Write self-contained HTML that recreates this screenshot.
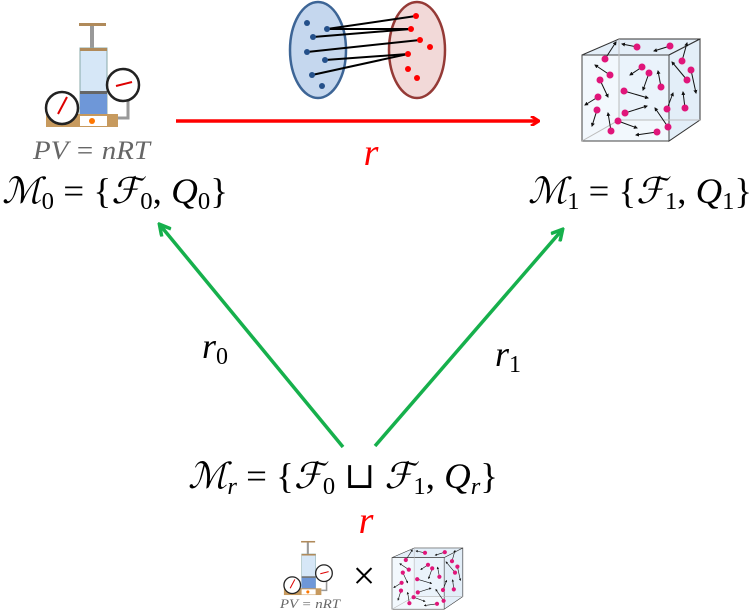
<!DOCTYPE html>
<html><head><meta charset="utf-8"><style>
html,body{margin:0;padding:0;background:#fff;width:754px;height:611px;overflow:hidden}
svg{display:block}
.m{font-family:"Liberation Serif","DejaVu Serif",serif;font-style:italic}
.r{font-family:"Liberation Serif",serif}
</style></head><body>
<svg width="754" height="611" viewBox="0 0 754 611" xmlns="http://www.w3.org/2000/svg">
<defs>
<marker id="ar" markerWidth="10" markerHeight="10" refX="8" refY="5" orient="auto" markerUnits="userSpaceOnUse">
<path d="M1,0 L9,5 L1,10" fill="none" stroke="#f00" stroke-width="3"/></marker>
<marker id="ag" markerWidth="14" markerHeight="14" refX="11" refY="7" orient="auto" markerUnits="userSpaceOnUse">
<path d="M1,1 L12,7 L1,13" fill="none" stroke="#16b04c" stroke-width="3.5"/></marker>
<marker id="sa" markerWidth="4" markerHeight="4" refX="3" refY="2" orient="auto" markerUnits="userSpaceOnUse">
<path d="M0,0 L4,2 L0,4z" fill="#111"/></marker>
<g id="pump">
 <rect x="79" y="23" width="27" height="3" fill="#b08a5a"/>
 <rect x="90" y="26" width="4" height="24" fill="#999"/>
 <rect x="80" y="48" width="27" height="67" fill="#d6e7f7" stroke="#8aa" stroke-width="1"/>
 <rect x="80" y="48" width="27" height="3" fill="#b08a5a"/>
 <rect x="80" y="91" width="27" height="3" fill="#666"/>
 <rect x="80" y="94" width="27" height="21" fill="#6e97d8"/>
 <rect x="46" y="114" width="72" height="13" fill="#c79a5e"/>
 <rect x="80" y="116" width="27" height="10" fill="#fff"/>
 <circle cx="92" cy="121" r="3" fill="#f70"/>
 <path d="M118,89 H128 V118 H118" fill="none" stroke="#999" stroke-width="3"/>
 <circle cx="62" cy="108" r="16" fill="#fff" stroke="#222" stroke-width="2.5"/>
 <line x1="58" y1="114" x2="67" y2="97" stroke="#d00" stroke-width="2"/>
 <circle cx="123" cy="85" r="16" fill="#fff" stroke="#222" stroke-width="2.5"/>
 <line x1="116" y1="86" x2="132" y2="82" stroke="#d00" stroke-width="2"/>
</g>
<g id="cube">
 <rect x="619" y="39" width="81" height="81" fill="#eaf3fb" stroke="#bbb"/>
 <path d="M582,55 L619,39 H700 L669,55 Z" fill="#e3eef8" stroke="#333"/>
 <path d="M669,55 L700,39 V120 L669,141 Z" fill="#e3eef8" stroke="#333"/>
 <rect x="582" y="55" width="87" height="86" fill="#eaf3fb" fill-opacity="0.6" stroke="#444"/>
 <line x1="619" y1="39" x2="619" y2="120" stroke="#bbb"/>
 <line x1="619" y1="120" x2="700" y2="120" stroke="#bbb"/>
 <line x1="582" y1="141" x2="619" y2="120" stroke="#bbb"/>
 <g stroke="#111" stroke-width="1" marker-end="url(#sa)">
  <line x1="605" y1="59" x2="616" y2="42"/><line x1="637" y1="47" x2="622" y2="44"/>
  <line x1="670" y1="46" x2="654" y2="51"/><line x1="610" y1="75" x2="595" y2="65"/>
  <line x1="600" y1="80" x2="608" y2="97"/><line x1="642" y1="67" x2="630" y2="75"/>
  <line x1="649" y1="73" x2="643" y2="90"/><line x1="661" y1="87" x2="658" y2="71"/>
  <line x1="624" y1="91" x2="648" y2="98"/><line x1="598" y1="97" x2="585" y2="105"/>
  <line x1="597" y1="110" x2="592" y2="126"/><line x1="625" y1="113" x2="647" y2="106"/>
  <line x1="618" y1="121" x2="637" y2="128"/><line x1="611" y1="131" x2="608" y2="113"/>
  <line x1="657" y1="132" x2="636" y2="135"/><line x1="668" y1="127" x2="655" y2="108"/>
  <line x1="667" y1="109" x2="673" y2="93"/><line x1="685" y1="108" x2="683" y2="92"/>
  <line x1="682" y1="61" x2="687" y2="43"/><line x1="691" y1="70" x2="696" y2="93"/>
  <line x1="687" y1="80" x2="672" y2="62"/>
 </g>
 <g fill="#e0157a">
  <circle cx="605" cy="59" r="3.5"/><circle cx="637" cy="47" r="3.5"/><circle cx="670" cy="46" r="3.5"/>
  <circle cx="610" cy="75" r="3.5"/><circle cx="600" cy="80" r="3.5"/><circle cx="642" cy="67" r="3.5"/>
  <circle cx="649" cy="73" r="3.5"/><circle cx="661" cy="87" r="3.5"/><circle cx="624" cy="91" r="3.5"/>
  <circle cx="598" cy="97" r="3.5"/><circle cx="597" cy="110" r="3.5"/><circle cx="625" cy="113" r="3.5"/>
  <circle cx="618" cy="121" r="3.5"/><circle cx="611" cy="131" r="3.5"/><circle cx="657" cy="132" r="3.5"/>
  <circle cx="668" cy="127" r="3.5"/><circle cx="667" cy="109" r="3.5"/><circle cx="685" cy="108" r="3.5"/>
  <circle cx="682" cy="61" r="3.5"/><circle cx="691" cy="70" r="3.5"/><circle cx="687" cy="80" r="3.5"/>
 </g>
</g>
</defs>

<use href="#pump"/>
<text x="33" y="159" textLength="117" lengthAdjust="spacingAndGlyphs" class="m" font-size="26" fill="#666">PV = nRT</text>
<text x="2" y="203" textLength="226" lengthAdjust="spacingAndGlyphs" class="m" font-size="36" fill="#000">ℳ<tspan font-size="24" dy="6" font-style="normal">0</tspan><tspan dy="-6" font-style="normal"> = {</tspan>ℱ<tspan font-size="24" dy="6" font-style="normal">0</tspan><tspan dy="-6" font-style="normal">, </tspan>Q<tspan font-size="24" dy="6" font-style="normal">0</tspan><tspan dy="-6" font-style="normal">}</tspan></text>

<ellipse cx="318" cy="50" rx="28" ry="48" fill="#c5d7ee" stroke="#3d6596" stroke-width="2.5"/>
<ellipse cx="417" cy="50" rx="28" ry="48" fill="#f2d9d8" stroke="#953a36" stroke-width="2.5"/>
<g stroke="#000" stroke-width="2">
 <line x1="327" y1="29" x2="416" y2="16"/><line x1="327" y1="29" x2="411" y2="29"/>
 <line x1="313" y1="37" x2="411" y2="29"/><line x1="307" y1="52" x2="420" y2="40"/>
 <line x1="325" y1="60" x2="408" y2="54"/><line x1="312" y1="75" x2="408" y2="54"/>
</g>
<g fill="#24508a"><circle cx="307" cy="23" r="3"/><circle cx="327" cy="29" r="3"/><circle cx="313" cy="37" r="3"/><circle cx="307" cy="52" r="3"/><circle cx="325" cy="60" r="3"/><circle cx="312" cy="75" r="3"/><circle cx="322" cy="86" r="3"/></g>
<g fill="#f00"><circle cx="416" cy="16" r="3"/><circle cx="411" cy="29" r="3"/><circle cx="420" cy="40" r="3"/><circle cx="430" cy="47" r="3"/><circle cx="408" cy="54" r="3"/><circle cx="408" cy="69" r="3"/><circle cx="417" cy="78" r="3"/></g>

<line x1="176" y1="121" x2="538" y2="121" stroke="#f00" stroke-width="3.5" marker-end="url(#ar)"/>
<text x="371" y="165" text-anchor="middle" class="m" font-size="38" fill="#f00">r</text>

<use href="#cube"/>
<text x="528" y="203" textLength="224" lengthAdjust="spacingAndGlyphs" class="m" font-size="36" fill="#000">ℳ<tspan font-size="24" dy="6" font-style="normal">1</tspan><tspan dy="-6" font-style="normal"> = {</tspan>ℱ<tspan font-size="24" dy="6" font-style="normal">1</tspan><tspan dy="-6" font-style="normal">, </tspan>Q<tspan font-size="24" dy="6" font-style="normal">1</tspan><tspan dy="-6" font-style="normal">}</tspan></text>

<line x1="343" y1="447" x2="160" y2="225" stroke="#16b04c" stroke-width="3.5" marker-end="url(#ag)"/>
<line x1="375" y1="446" x2="562" y2="230" stroke="#16b04c" stroke-width="3.5" marker-end="url(#ag)"/>
<text x="202" y="358" class="m" font-size="36">r<tspan font-size="24" dy="6" font-style="normal">0</tspan></text>
<text x="495" y="366" class="m" font-size="36">r<tspan font-size="24" dy="6" font-style="normal">1</tspan></text>

<text x="188" y="488" textLength="310" lengthAdjust="spacingAndGlyphs" class="m" font-size="36" fill="#000">ℳ<tspan font-size="24" dy="6">r</tspan><tspan dy="-6" font-style="normal"> = {</tspan>ℱ<tspan font-size="24" dy="6" font-style="normal">0</tspan><tspan dy="-6" font-style="normal"> ⊔ </tspan>ℱ<tspan font-size="24" dy="6" font-style="normal">1</tspan><tspan dy="-6" font-style="normal">, </tspan>Q<tspan font-size="24" dy="6">r</tspan><tspan dy="-6" font-style="normal">}</tspan></text>
<text x="366" y="533" text-anchor="middle" class="m" font-size="38" fill="#f00">r</text>

<g transform="translate(260,529) scale(0.52)"><use href="#pump"/></g>
<text x="280" y="608" textLength="60" lengthAdjust="spacingAndGlyphs" class="m" font-size="13" fill="#666">PV = nRT</text>
<text x="364" y="589" text-anchor="middle" class="r" font-size="40">×</text>
<g transform="translate(392,548) scale(0.6) translate(-582,-39)"><use href="#cube"/></g>
</svg>
</body></html>
